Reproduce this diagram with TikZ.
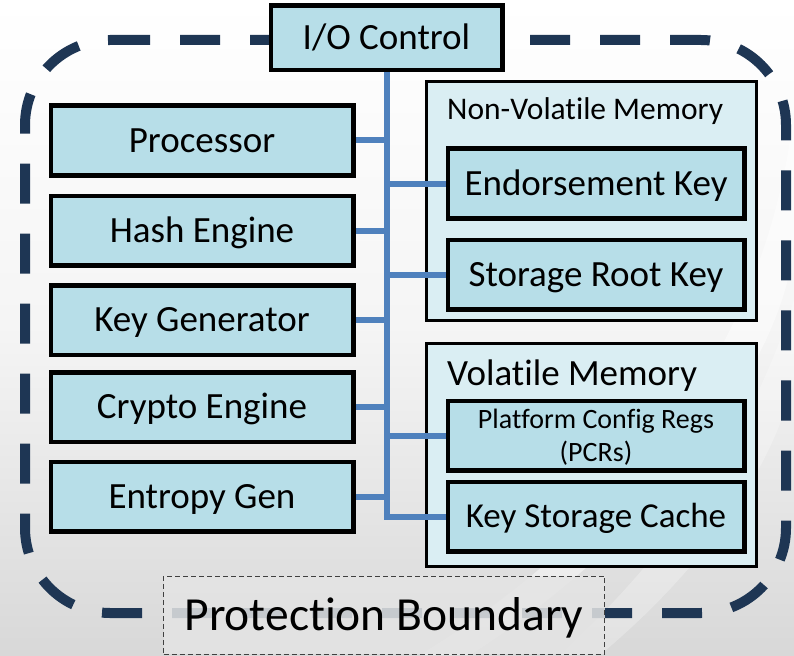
\documentclass[tikz,border=0pt]{standalone}
\usepackage{fontspec}
\setmainfont{Carlito}[Ligatures=NoCommon]
\definecolor{navy}{HTML}{1E3654}
\definecolor{unitfill}{HTML}{B7DEE8}
\definecolor{memfill}{HTML}{DAEEF3}
\definecolor{busblue}{HTML}{4F81BD}
\definecolor{bggray}{HTML}{D8D8D8}
\definecolor{protfill}{HTML}{E4E4E4}
\begin{document}
\begin{tikzpicture}[x=1pt,y=-1pt,
  unit/.style={draw=black, line width=3pt, fill=unitfill, inner sep=0pt,
    minimum height=68pt, text height=23.8pt, text depth=0pt,
    font=\fontsize{37}{44}\selectfont},
  leftunit/.style={unit, minimum width=301pt},
  keyunit/.style={unit, minimum width=295pt},
  memory/.style={draw=black, line width=2.5pt, fill=memfill, inner sep=0pt,
    minimum width=330pt},
  bus/.style={draw=busblue, line width=6pt},
  boundary/.style={draw=navy, line width=10pt, dash pattern=on 40pt off 30pt},
  protbox/.style={draw=black!75, line width=1pt, dash pattern=on 5pt off 3pt,
    fill=protfill, fill opacity=0.85, text opacity=1, inner sep=0pt,
    minimum width=441pt, minimum height=78pt, text height=30.5pt, text depth=0pt,
    font=\fontsize{47.5}{57}\selectfont}]

% page and background
\useasboundingbox (0,0) rectangle (794,655);
\shade[top color=white, bottom color=bggray, middle color=gray!8]
  (0,0) rectangle (794,655);
\fill[white, opacity=0.45]
  (794,110) .. controls (770,330) and (640,520) .. (420,655)
  -- (470,655) .. controls (680,520) and (790,340) .. (794,240) -- cycle;
\fill[white, opacity=0.25]
  (794,300) .. controls (740,470) and (640,580) .. (560,655)
  -- (600,655) .. controls (690,580) and (770,480) .. (794,380) -- cycle;

% protection boundary outline (rounded rectangle, radius 85)
\draw[boundary] (110,40) -- (701,40)
  .. controls (747.9,40) and (786,78.1) .. (786,125) -- (786,528)
  .. controls (786,574.9) and (747.9,613) .. (701,613) -- (110,613)
  .. controls (63.1,613) and (25,574.9) .. (25,528) -- (25,125)
  .. controls (25,78.1) and (63.1,40) .. (110,40);

% memory containers
\node[memory, minimum height=239pt] (nvm) at (591.5,201) {};
\node[memory, minimum height=223pt] (vm) at (591.5,455) {};
\node[anchor=base west, inner sep=0pt, font=\fontsize{31.5}{38}\selectfont]
  (nvmlabel) at (447,120) {Non-Volatile Memory};
\node[anchor=base west, inner sep=0pt, font=\fontsize{37}{44}\selectfont]
  (vmlabel) at (447,385) {Volatile Memory};

% functional units
\node[unit, minimum width=230pt, minimum height=63pt] (io) at (386.5,38) {I/O Control};
\node[leftunit] (proc)    at (202,140.5) {Processor};
\node[leftunit] (hash)    at (202,230.5) {Hash Engine};
\node[leftunit] (keygen)  at (202,320)   {Key Generator};
\node[leftunit] (crypto)  at (202,407)   {Crypto Engine};
\node[leftunit] (entropy) at (202,496.5) {Entropy Gen};

\node[keyunit] (ek)  at (596,183.5) {Endorsement Key};
\node[keyunit] (srk) at (596,274.5) {Storage Root Key};
\node[keyunit, text height=51pt, text depth=0pt, align=center,
  font=\fontsize{28}{33}\selectfont] (pcr) at (596,435.5)
  {Platform Config Regs\\(PCRs)};
\node[keyunit, text height=22.5pt, font=\fontsize{35}{42}\selectfont]
  (ksc) at (596,516.5) {Key Storage Cache};

% internal bus
\draw[bus] (io.south) -- (io.south |- ksc.west) -- (ksc.west);
\foreach \u in {proc,hash,keygen,crypto,entropy}
  \draw[bus] (\u.east) -- (\u.east -| io.south);
\foreach \u in {ek,srk,pcr}
  \draw[bus] (io.south |- \u.west) -- (\u.west);

% redraw the borders that the bus touches
\foreach \u in {io,proc,hash,keygen,crypto,entropy,ek,srk,pcr,ksc}
  \draw[black, line width=3pt] (\u.north east) rectangle (\u.south west);

% caption
\node[protbox] (prot) at (384,615) {Protection Boundary};
\end{tikzpicture}
\end{document}
